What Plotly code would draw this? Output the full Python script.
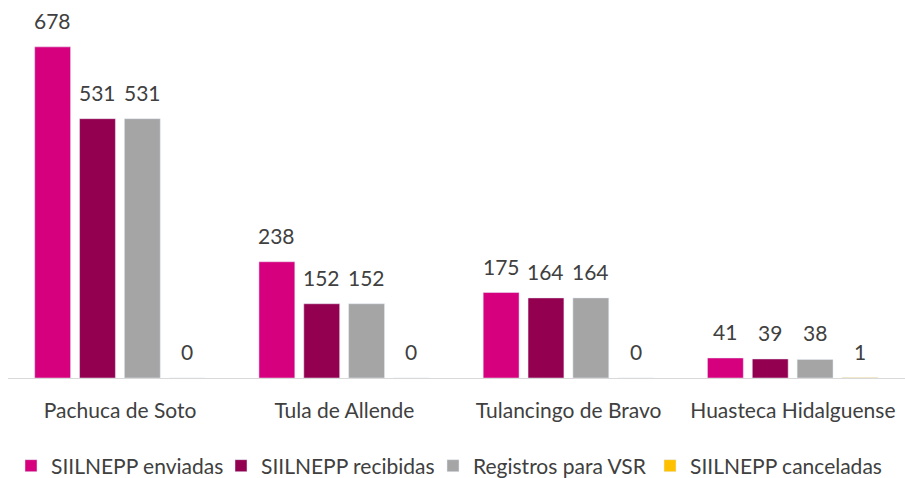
import plotly.graph_objects as go

categorias = ["Pachuca de Soto", "Tula de Allende", "Tulancingo de Bravo", "Huasteca Hidalguense"]
enviadas = [678, 238, 175, 41]
recibidas = [531, 152, 164, 39]
registros_vsr = [531, 152, 164, 38]
canceladas = [0, 0, 0, 1]

series = [
    ("SIILNEPP enviadas", enviadas, "#D6007E"),
    ("SIILNEPP recibidas", recibidas, "#940050"),
    ("Registros para VSR", registros_vsr, "#A5A5A5"),
    ("SIILNEPP canceladas", canceladas, "#FFC000"),
]

W, H = 905, 478
ML, MR, MT, MB = 8, 0, 20, 100
cat_px = (W - ML - MR) / len(categorias)

# bar placement inside each category (Excel-like gap / spacing)
ancho = 0.16
paso = 0.2
inicio = -0.381

# one legend per series so the entries sit where Excel put them
leyenda_x = [11, 221, 433, 650]

fig = go.Figure()
for i, (nombre, valores, color) in enumerate(series):
    off = inicio + i * paso
    ley = "legend" if i == 0 else f"legend{i + 1}"
    fig.add_trace(go.Bar(
        x=categorias, y=valores, name=nombre, marker_color=color,
        width=ancho, offset=off, cliponaxis=False, legend=ley,
    ))
    for cat, v in zip(categorias, valores):
        fig.add_annotation(
            x=cat, y=v, text=str(v), showarrow=False, yanchor="bottom",
            xshift=(off + ancho / 2) * cat_px, yshift=12,
            font=dict(size=21, color="#404040"),
        )
    fig.update_layout({ley: dict(
        orientation="h", xref="container", yref="container",
        x=leyenda_x[i] / W, xanchor="left", y=1 - 466 / H, yanchor="middle",
        font=dict(size=21, color="#404040"), bgcolor="rgba(0,0,0,0)",
    )})

fig.update_layout(
    width=W, height=H,
    margin=dict(l=ML, r=MR, t=MT, b=MB, autoexpand=False),
    paper_bgcolor="white", plot_bgcolor="white",
    barmode="overlay",
    font=dict(family="Lato, sans-serif", size=21, color="#404040"),
    showlegend=True,
)
fig.update_xaxes(showline=True, linecolor="#D9D9D9", linewidth=1, ticks="",
                 tickangle=0, automargin=False,
                 ticklabelstandoff=14, tickfont=dict(size=21, color="#404040"))
fig.update_yaxes(visible=False, range=[0, 733])

fig.write_html("out.html", config={"displayModeBar": False},
               post_script="document.body.style.margin='0';")
